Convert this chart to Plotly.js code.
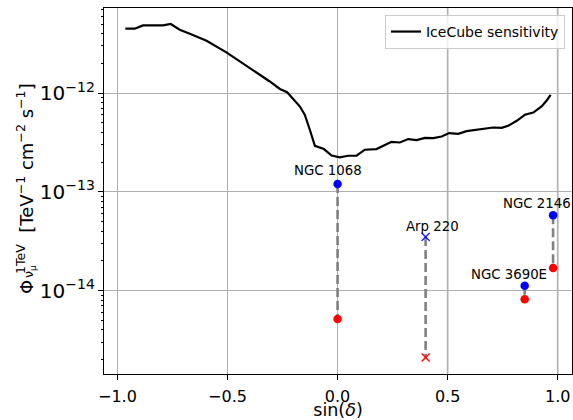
<!DOCTYPE html>
<html>
<head>
<meta charset="utf-8">
<script src="https://cdn.plot.ly/plotly-3.0.1.min.js"></script>
<style>
html,body{margin:0;padding:0;background:#fff;}
#chart{width:573px;height:420px;}
</style>
</head>
<body>
<div id="chart"></div>
<script>
// IceCube sensitivity curve (sin(dec), flux at 1 TeV)
const sensSinDec = [-0.964,-0.921,-0.884,-0.793,-0.758,-0.717,-0.671,-0.595,-0.505,-0.384,-0.308,-0.262,-0.229,-0.171,-0.149,-0.126,-0.103,-0.062,-0.027,0.010,0.048,0.086,0.124,0.177,0.200,0.245,0.283,0.321,0.359,0.397,0.435,0.473,0.507,0.548,0.586,0.624,0.670,0.707,0.745,0.775,0.814,0.851,0.889,0.927,0.950,0.968];
const sensFlux = [4.48e-12,4.48e-12,4.84e-12,4.84e-12,5.0e-12,4.37e-12,3.99e-12,3.39e-12,2.58e-12,1.72e-12,1.31e-12,1.10e-12,1.02e-12,7.3e-13,6.03e-13,4.25e-13,2.92e-13,2.71e-13,2.33e-13,2.23e-13,2.32e-13,2.32e-13,2.67e-13,2.71e-13,2.88e-13,3.21e-13,3.16e-13,3.42e-13,3.34e-13,3.52e-13,3.50e-13,3.63e-13,3.93e-13,3.87e-13,4.12e-13,4.25e-13,4.42e-13,4.48e-13,4.45e-13,4.66e-13,5.24e-13,6.03e-13,6.35e-13,7.31e-13,8.41e-13,9.6e-13];

// Sources
const srcNames = ["NGC 1068","Arp 220","NGC 3690E","NGC 2146"];
const srcSinDec = [0.0, 0.4, 0.85, 0.979];
const srcUpper = [1.2e-13, 3.5e-14, 1.12e-14, 5.8e-14];   // blue
const srcLower = [5.16e-15, 2.1e-15, 8.2e-15, 1.69e-14];  // red
const srcSymbol = ["circle","x-thin","circle","circle"];
const labelShiftX = [-10, 7, -16, -16];
const labelShiftY = [14, 10, 11, 12];

const xTicks = [-1.0,-0.5,0.0,0.5,1.0];
const xTickText = ["\u22121.0","\u22120.5","0.0","0.5","1.0"];

const FONT = "DejaVu Sans";
const traces = [];

// dashed connectors
for (let i = 0; i < srcNames.length; i++) {
  traces.push({
    x: [srcSinDec[i], srcSinDec[i]], y: [srcUpper[i], srcLower[i]],
    mode: "lines", type: "scatter", showlegend: false, hoverinfo: "skip",
    line: {color: "#808080", width: 2.6, dash: "9px,4px"}
  });
}
traces.push({
  x: sensSinDec, y: sensFlux, mode: "lines", type: "scatter",
  name: "IceCube sensitivity", line: {color: "#000", width: 2.2}
});
// markers
for (let i = 0; i < srcNames.length; i++) {
  const isX = srcSymbol[i] !== "circle";
  traces.push({
    x: [srcSinDec[i], srcSinDec[i]], y: [srcUpper[i], srcLower[i]],
    mode: "markers", type: "scatter", showlegend: false,
    marker: {
      symbol: srcSymbol[i], size: isX ? 8 : 8.5,
      color: ["#0000ff", "#ff0000"],
      line: isX ? {color: ["#0000ff", "#ff0000"], width: 1.3} : {width: 0}
    }
  });
}

const annotations = srcNames.map((n, i) => ({
  x: srcSinDec[i], y: Math.log10(srcUpper[i]), xref: "x", yref: "y",
  text: n, showarrow: false, xshift: labelShiftX[i], yshift: labelShiftY[i],
  font: {family: FONT, size: 13.3, color: "#000"}
}));
// y-axis label
annotations.push({
  xref: "paper", yref: "paper", x: 0, xshift: -79, y: 0.5055,
  text: "\u03A6 <sup>1TeV</sup>  [TeV<sup>\u22121</sup> cm<sup>\u22122</sup> s<sup>\u22121</sup>]",
  textangle: -90, showarrow: false, xanchor: "center", yanchor: "middle",
  font: {family: FONT, size: 18, color: "#000"}
});
annotations.push({
  xref: "paper", yref: "paper", x: 0, xshift: -75, y: (374 - 272) / 366,
  text: "\u03BD<sub>\u03BC</sub>",
  textangle: -90, showarrow: false, xanchor: "center", yanchor: "middle",
  font: {family: FONT, size: 12.5, color: "#000"}
});

const layout = {
  width: 573, height: 420,
  margin: {l: 104, r: 1, t: 8, b: 46},
  paper_bgcolor: "#fff", plot_bgcolor: "#fff",
  font: {family: FONT, color: "#000"},
  showlegend: true,
  legend: {
    x: 0.985, y: 0.981, xanchor: "right", yanchor: "top",
    bgcolor: "rgba(255,255,255,0.8)", bordercolor: "#cccccc", borderwidth: 1,
    itemwidth: 30, tracegroupgap: 0,
    font: {family: FONT, size: 14, color: "#000"}
  },
  xaxis: {
    range: [-1.061, 1.065], tickvals: xTicks, ticktext: xTickText,
    showgrid: true, gridcolor: "#b0b0b0", gridwidth: 1,
    zeroline: false, showline: true, linecolor: "#000", linewidth: 1, mirror: true,
    ticks: "outside", ticklen: 5, tickcolor: "#000", ticklabelstandoff: 3,
    tickfont: {family: FONT, size: 16, color: "#000"},
    title: {text: "sin(<i>\u03B4</i>)", font: {family: FONT, size: 17.5, color: "#000"}, standoff: 2}
  },
  yaxis: {
    type: "log", range: [-14.844, -11.139], dtick: 1, exponentformat: "power",
    showgrid: true, gridcolor: "#b0b0b0", gridwidth: 1,
    zeroline: false, showline: true, linecolor: "#000", linewidth: 1, mirror: true,
    ticks: "outside", ticklen: 5, tickcolor: "#000",
    tickfont: {family: FONT, size: 16, color: "#000"},
    minor: {ticks: "outside", ticklen: 2.5, tickcolor: "#000", showgrid: false, dtick: "D1"}
  },
  shapes: [
    {type: "line", xref: "x", yref: "paper", x0: 0.5, x1: 0.5, y0: 0, y1: 1, layer: "below", line: {color: "#a8a8a8", width: 1.6}},
    {type: "line", xref: "x", yref: "paper", x0: 1.0, x1: 1.0, y0: 0, y1: 1, layer: "below", line: {color: "#a8a8a8", width: 1.6}}
  ],
  annotations: annotations
};

Plotly.newPlot("chart", traces, layout, {displayModeBar: false, staticPlot: true});
</script>
</body>
</html>
